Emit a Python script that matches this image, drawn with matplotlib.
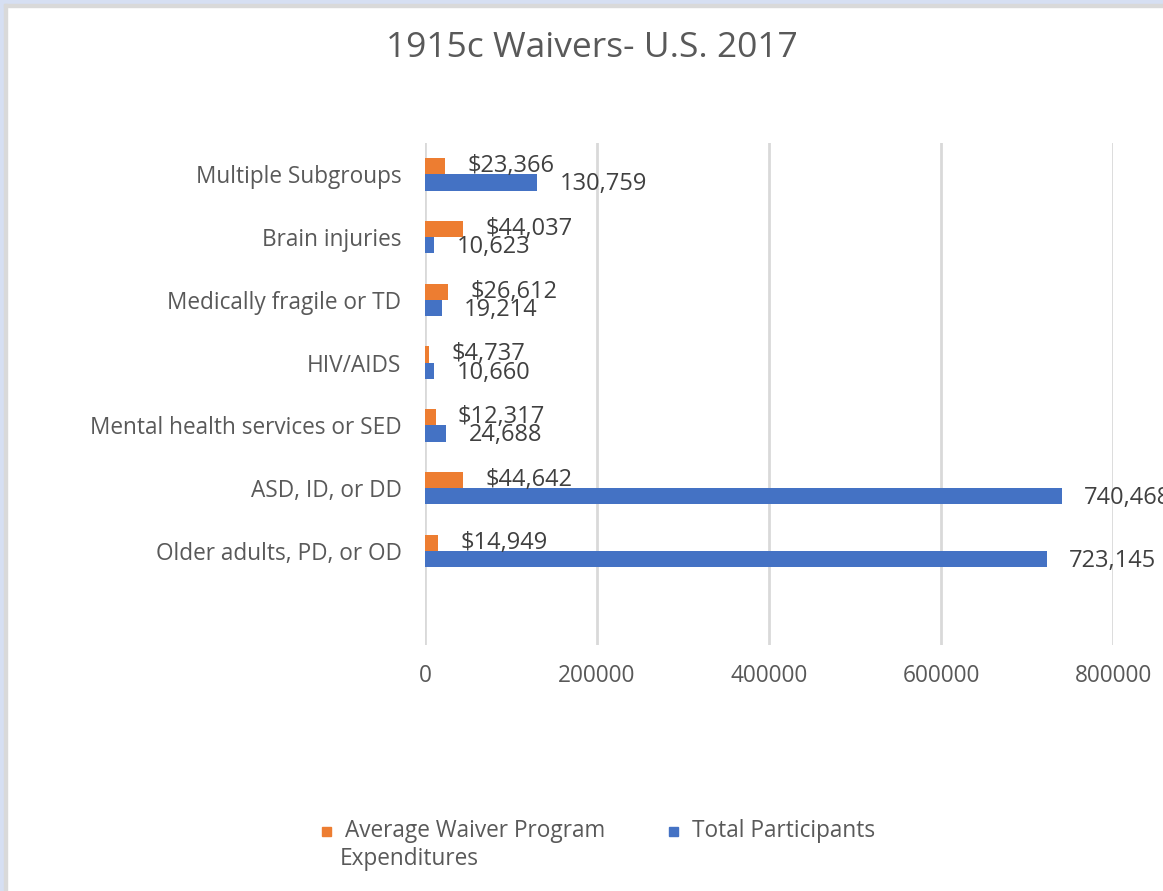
import matplotlib.pyplot as plt
from matplotlib.patches import Rectangle

# Data (top to bottom as shown)
categories = ["Multiple Subgroups", "Brain injuries", "Medically fragile or TD",
              "HIV/AIDS", "Mental health services or SED", "ASD, ID, or DD",
              "Older adults, PD, or OD"]
avg_expenditure = [23366, 44037, 26612, 4737, 12317, 44642, 14949]
participants = [130759, 10623, 19214, 10660, 24688, 740468, 723145]
xticks = [0, 200000, 400000, 600000, 800000]

ORANGE = "#ED7D31"
BLUE = "#4472C4"
GREY = "#595959"

plt.rcParams['font.family'] = ['Open Sans', 'DejaVu Sans']

W, H = 1163, 891
fig = plt.figure(figsize=(W / 100, H / 100), dpi=100)

# frame around the screenshot (top and left edges)
fig.patches.append(Rectangle((0, 1 - 4 / H), 1, 4 / H, transform=fig.transFigure,
                             color="#D6DFF2", zorder=0))
fig.patches.append(Rectangle((0, 0), 4 / W, 1, transform=fig.transFigure,
                             color="#D6DFF2", zorder=0))
fig.patches.append(Rectangle((4 / W, 0), 2.5 / W, 1 - 4 / H, transform=fig.transFigure,
                             color="#D9D9D9", zorder=0))
fig.patches.append(Rectangle((4 / W, 1 - 6.5 / H), 1, 2.5 / H, transform=fig.transFigure,
                             color="#D9D9D9", zorder=0))

left, right = 425 / W, 1113 / W
top, bottom = 1 - 143 / H, 1 - 645 / H
ax = fig.add_axes([left, bottom, right - left, top - bottom])

n = len(categories)
ypos = [n - i for i in range(n)]  # 7..1, slot 0 left empty
bh = 0.26

ax.barh([y + bh / 2 for y in ypos], avg_expenditure, height=bh, color=ORANGE, zorder=3)
ax.barh([y - bh / 2 for y in ypos], participants, height=bh, color=BLUE, zorder=3)

for y, v in zip(ypos, avg_expenditure):
    ax.annotate(f"${v:,}", (v, y + bh / 2), xytext=(16, 0), textcoords="offset points",
                va="center", ha="left", fontsize=17, color="#404040", annotation_clip=False)
for y, v in zip(ypos, participants):
    ax.annotate(f"{v:,}", (v, y - bh / 2 - 0.03), xytext=(16, 0), textcoords="offset points",
                va="center", ha="left", fontsize=17, color="#404040", annotation_clip=False)

ax.set_xlim(0, 800000)
ax.set_ylim(-0.5, n + 0.5)
ax.set_xticks(xticks)
ax.set_xticklabels([str(t) for t in xticks])
ax.set_yticks(ypos)
ax.set_yticklabels(categories)
ax.tick_params(axis="both", length=0, labelsize=16.3, labelcolor=GREY)
ax.tick_params(axis="x", pad=14)
ax.tick_params(axis="y", pad=17)
ax.grid(axis="x", color="#D9D9D9", linewidth=2, zorder=0)
for s in ax.spines.values():
    s.set_visible(False)

fig.text(592 / W, 1 - 48 / H, "1915c Waivers- U.S. 2017", ha="center", va="center",
         fontsize=25.5, color=GREY)

# legend
fig.patches.append(Rectangle((322 / W, 1 - 836 / H), 9 / W, 9 / H,
                             transform=fig.transFigure, color=ORANGE))
fig.text(345 / W, 1 - 831 / H, "Average Waiver Program", ha="left", va="center",
         fontsize=16.3, color=GREY)
fig.text(340 / W, 1 - 859 / H, "Expenditures", ha="left", va="center",
         fontsize=16.3, color=GREY)
fig.patches.append(Rectangle((669 / W, 1 - 836 / H), 9 / W, 9 / H,
                             transform=fig.transFigure, color=BLUE))
fig.text(692 / W, 1 - 831 / H, "Total Participants", ha="left", va="center",
         fontsize=16.3, color=GREY)

fig.savefig("out.png", dpi=100)
